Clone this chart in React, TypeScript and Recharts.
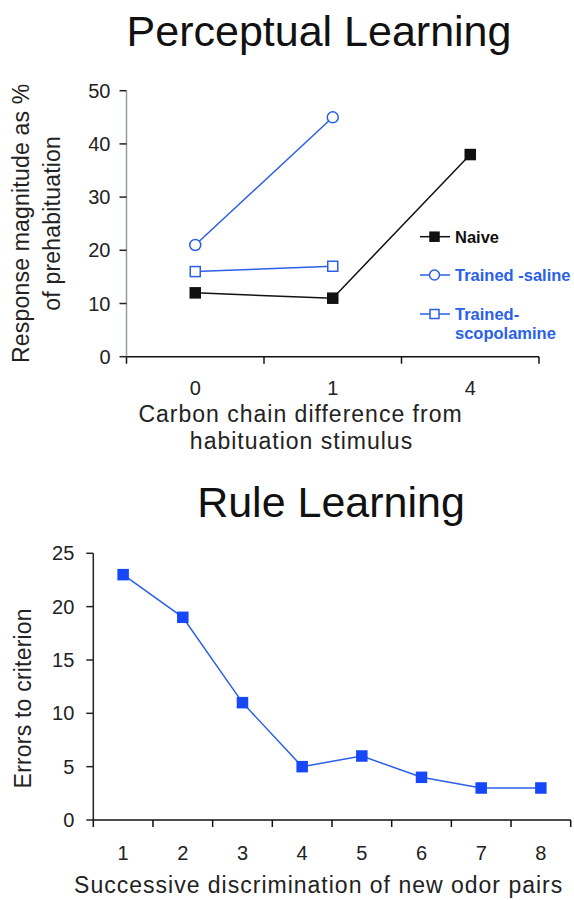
import React from "react";
import { LineChart, Line, XAxis, YAxis } from "recharts";

const FONT = '"Liberation Sans", Arial, Helvetica, sans-serif';
const BLUE = "#2a5fe8";
const BLUE_MARK = "#1648fa";

// ---- Perceptual Learning data ----
const carbonCategories = ["0", "1", "4"];
const naiveValues: (number | null)[] = [12, 11, 38];
const salineValues: (number | null)[] = [21, 45, null];
const scopolamineValues: (number | null)[] = [16, 17, null];
const topYTicks = [0, 10, 20, 30, 40, 50];

// ---- Rule Learning data ----
const pairCategories = ["1", "2", "3", "4", "5", "6", "7", "8"];
const errorValues = [23, 19, 11, 5, 6, 4, 3, 3];
const bottomYTicks = [0, 5, 10, 15, 20, 25];

const topData = carbonCategories.map((c, i) => ({
  pos: i + 0.5,
  label: c,
  naive: naiveValues[i],
  saline: salineValues[i],
  scop: scopolamineValues[i],
}));

const bottomData = pairCategories.map((c, i) => ({
  pos: i + 0.5,
  label: c,
  errors: errorValues[i],
}));

const makeTicks = (n: number) => {
  const t: number[] = [];
  for (let i = 0; i <= n; i++) {
    t.push(i);
    if (i < n) t.push(i + 0.5);
  }
  return t;
};

const makeXTick = (rows: { pos: number; label: string }[], labelDy: number) => (props: any) => {
  const { x, y, payload } = props;
  const v = payload.value;
  const row = rows.find((r) => r.pos === v);
  if (row) {
    return (
      <text x={x} y={y + labelDy} textAnchor="middle" fontSize={20} fill="#222" fontFamily={FONT}>
        {row.label}
      </text>
    );
  }
  return <line x1={x} x2={x} y1={y} y2={y + 7} stroke="#111" strokeWidth={1.5} />;
};

const squareDot = (size: number, fill: string, stroke: string) => (props: any) => {
  const { cx, cy, index } = props;
  if (cx == null || cy == null) return <g key={`e${index}`} />;
  return (
    <rect
      key={`s${index}`}
      x={cx - size / 2}
      y={cy - size / 2}
      width={size}
      height={size}
      fill={fill}
      stroke={stroke}
      strokeWidth={1.5}
    />
  );
};

const circleDot = (r: number, fill: string, stroke: string) => (props: any) => {
  const { cx, cy, index } = props;
  if (cx == null || cy == null) return <g key={`e${index}`} />;
  return <circle key={`c${index}`} cx={cx} cy={cy} r={r} fill={fill} stroke={stroke} strokeWidth={1.5} />;
};

const legendItems = [
  { lines: ["Naive"], color: "#111", text: "#111", shape: "square", fill: "#111" },
  { lines: ["Trained -saline"], color: BLUE, text: BLUE, shape: "circle", fill: "#fff" },
  { lines: ["Trained-", "scopolamine"], color: BLUE, text: BLUE, shape: "square", fill: "#fff" },
];
const legendRowY = [236.7, 275, 314];

export default function App() {
  return (
    <div style={{ position: "absolute", left: 0, top: 0, width: 574, height: 900, background: "#fff" }}>
      <div style={{ position: "absolute", left: 0, top: 0 }}>
        <LineChart width={574} height={460} data={topData} margin={{ top: 90.7, right: 35, bottom: 73.3, left: 66.5 }}>
          <XAxis
            dataKey="pos"
            type="number"
            domain={[0, 3]}
            ticks={makeTicks(3)}
            interval={0}
            height={30}
            tickSize={0}
            tickMargin={0}
            tickLine={false}
            axisLine={{ stroke: "#111", strokeWidth: 1.5 }}
            tick={makeXTick(topData, 38.6)}
          />
          <YAxis
            type="number"
            domain={[0, 50]}
            ticks={topYTicks}
            interval={0}
            width={60}
            tickSize={7}
            tickMargin={9}
            axisLine={{ stroke: "#8e9e9e", strokeWidth: 1.5 }}
            tickLine={{ stroke: "#222", strokeWidth: 1.5 }}
            tick={{ fontSize: 20, fill: "#222", fontFamily: FONT }}
          />
          <Line
            dataKey="naive"
            type="linear"
            stroke="#111"
            strokeWidth={1.5}
            dot={squareDot(10, "#111", "#111")}
            isAnimationActive={false}
          />
          <Line
            dataKey="saline"
            type="linear"
            stroke={BLUE}
            strokeWidth={1.5}
            dot={circleDot(5.5, "#fff", BLUE)}
            isAnimationActive={false}
          />
          <Line
            dataKey="scop"
            type="linear"
            stroke={BLUE}
            strokeWidth={1.5}
            dot={squareDot(10, "#fff", BLUE)}
            isAnimationActive={false}
          />
        </LineChart>
      </div>

      <div style={{ position: "absolute", left: 0, top: 450 }}>
        <LineChart width={574} height={450} data={bottomData} margin={{ top: 103.3, right: 3.3, bottom: 40, left: 33.3 }}>
          <XAxis
            dataKey="pos"
            type="number"
            domain={[0, 8]}
            ticks={makeTicks(8)}
            interval={0}
            height={40}
            tickSize={0}
            tickMargin={0}
            tickLine={false}
            axisLine={{ stroke: "#111", strokeWidth: 1.5 }}
            tick={makeXTick(bottomData, 40.3)}
          />
          <YAxis
            type="number"
            domain={[0, 25]}
            ticks={bottomYTicks}
            interval={0}
            width={60}
            tickSize={7}
            tickMargin={12}
            axisLine={{ stroke: "#222", strokeWidth: 1.5 }}
            tickLine={{ stroke: "#222", strokeWidth: 1.5 }}
            tick={{ fontSize: 20, fill: "#222", fontFamily: FONT }}
          />
          <Line
            dataKey="errors"
            type="linear"
            stroke={BLUE}
            strokeWidth={1.5}
            dot={squareDot(10, BLUE_MARK, BLUE_MARK)}
            isAnimationActive={false}
          />
        </LineChart>
      </div>

      <svg
        width={574}
        height={900}
        style={{ position: "absolute", left: 0, top: 0, pointerEvents: "none" }}
        fontFamily={FONT}
      >
        <text x={319} y={46} textAnchor="middle" fontSize={43} fill="#111">
          Perceptual Learning
        </text>
        <text x={331} y={517} textAnchor="middle" fontSize={43} fill="#111">
          Rule Learning
        </text>

        <text transform="translate(29,223.3) rotate(-90)" textAnchor="middle" fontSize={23} fill="#222" letterSpacing={0.2}>
          Response magnitude as %
        </text>
        <text transform="translate(60,223.3) rotate(-90)" textAnchor="middle" fontSize={23} fill="#222" letterSpacing={0.2}>
          of prehabituation
        </text>
        <text x={300.5} y={421.7} textAnchor="middle" fontSize={23} fill="#222" letterSpacing={1}>
          Carbon chain difference from
        </text>
        <text x={301.5} y={449} textAnchor="middle" fontSize={23} fill="#222" letterSpacing={1}>
          habituation stimulus
        </text>

        <text transform="translate(31,698.3) rotate(-90)" textAnchor="middle" fontSize={23} fill="#222" letterSpacing={0.2}>
          Errors to criterion
        </text>
        <text x={318.7} y={893} textAnchor="middle" fontSize={23} fill="#222" letterSpacing={1}>
          Successive discrimination of new odor pairs
        </text>

        {legendItems.map((it, i) => {
          const cy = legendRowY[i];
          return (
            <g key={it.lines[0]}>
              <line x1={420} x2={450} y1={cy} y2={cy} stroke={it.color} strokeWidth={1.5} />
              {it.shape === "square" ? (
                <rect x={430} y={cy - 4.5} width={9} height={9} fill={it.fill} stroke={it.color} strokeWidth={1.5} />
              ) : (
                <circle cx={434.5} cy={cy} r={5} fill={it.fill} stroke={it.color} strokeWidth={1.5} />
              )}
              {it.lines.map((ln, j) => (
                <text key={ln} x={455} y={cy + 6 + j * 19} fontSize={16.5} fontWeight="bold" fill={it.text}>
                  {ln}
                </text>
              ))}
            </g>
          );
        })}
      </svg>
    </div>
  );
}
